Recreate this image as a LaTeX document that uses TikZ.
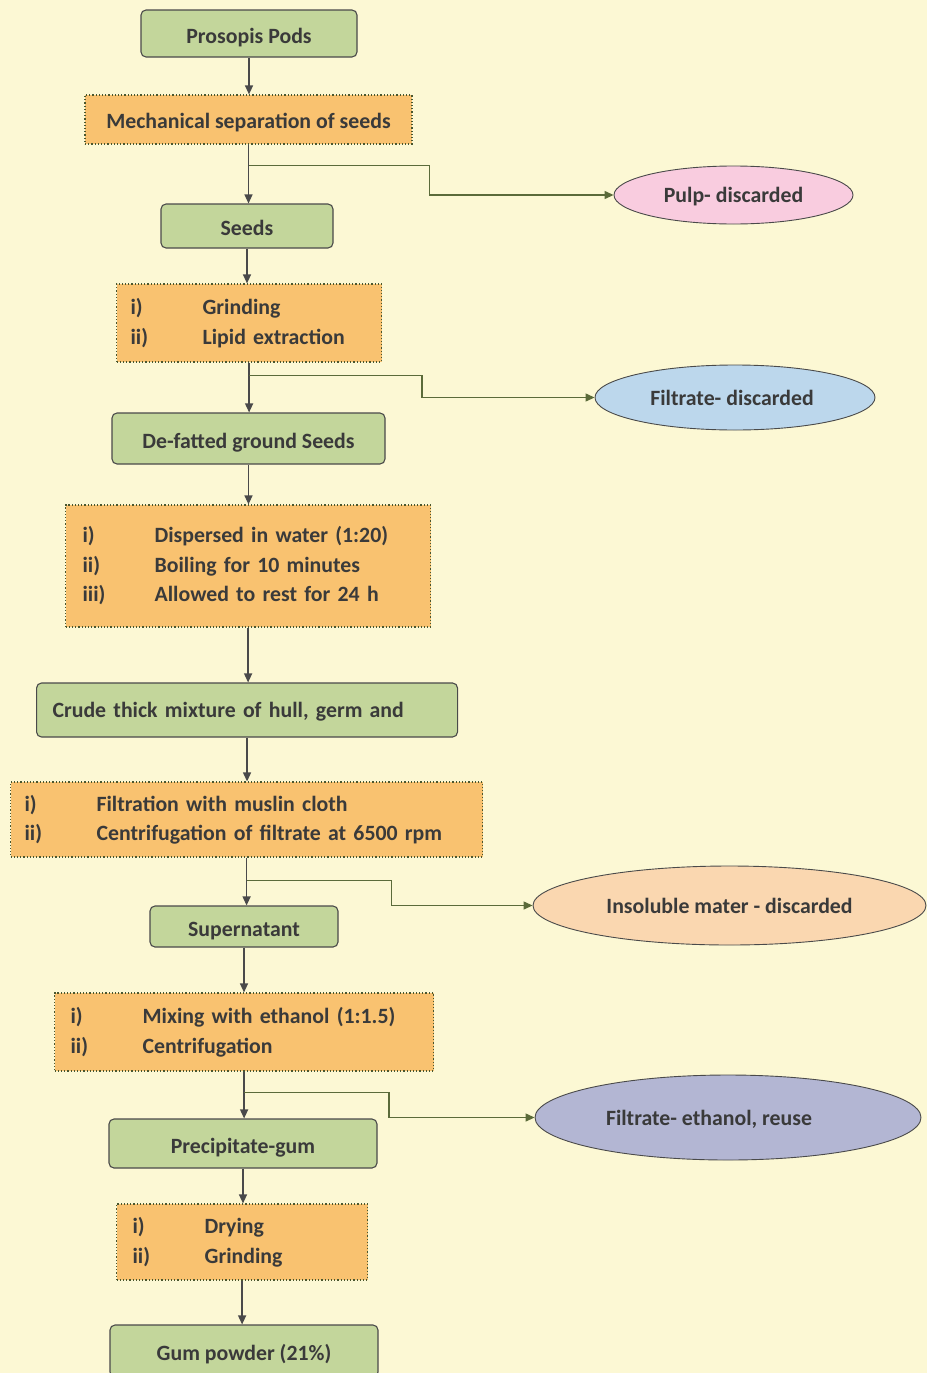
\documentclass[tikz,border=0pt]{standalone}
\usepackage{fontspec}
\setmainfont{Carlito}
\usetikzlibrary{arrows.meta,shapes.geometric,calc}
\definecolor{bgc}{HTML}{FCF8D4}
\definecolor{grn}{HTML}{C3D69B}
\definecolor{org}{HTML}{F9C270}
\definecolor{txt}{HTML}{3A3A3A}
\definecolor{ln}{HTML}{4A4A4A}
\definecolor{brn}{HTML}{5B6B3A}
\definecolor{pnk}{HTML}{F9CCDF}
\definecolor{blu}{HTML}{BCD7EC}
\definecolor{pch}{HTML}{FAD7B0}
\definecolor{lav}{HTML}{B3B6D3}
\newcommand\li[2]{\makebox[72pt][l]{#1}#2}
\begin{document}
\begin{tikzpicture}[x=1pt,y=-1pt,
  every node/.style={font=\fontsize{21.8}{29.5}\selectfont\bfseries, text=txt},
  gbox/.style={draw=ln, line width=1.1pt, fill=grn, rounded corners=5pt, inner sep=0pt, text height=22pt, text depth=3pt},
  obox/.style={draw=brn!80!black, line width=1.2pt, dotted, fill=org, inner sep=0pt},
  ell/.style={ellipse, draw=ln, line width=0.9pt, inner sep=0pt, text height=19pt, text depth=4pt},
  arr/.style={draw=ln, line width=1.3pt, -{Triangle[length=9pt,width=8pt]}},
  br/.style={draw=brn, line width=1.3pt, -{Triangle[length=9pt,width=8pt]}}]
\useasboundingbox (0,0) rectangle (927,1373);
\fill[bgc] (0,0) rectangle (927,1373);

\node[gbox, minimum width=216, minimum height=47] (pods) at (249,33.5) {Prosopis Pods};
\node[obox, minimum width=327, minimum height=49, text height=20pt, text depth=3pt] (mech) at (248.5,119.5) {Mechanical separation of seeds};
\node[gbox, minimum width=172, minimum height=44] (seeds) at (247,226) {Seeds};
\node[obox, minimum height=78, text width=237, inner xsep=14, align=left, anchor=west] (grind) at (116,323) {\li{i)}{Grinding}\\\li{ii)}{Lipid extraction}};
\node[gbox, minimum width=273, minimum height=51] (defat) at (248.5,438.5) {De-fatted ground Seeds};
\node[obox, minimum height=122, text width=331, inner xsep=17, align=left, anchor=west] (disp) at (65,566) {\li{i)}{Dispersed in water (1:20)}\\\li{ii)}{Boiling for 10 minutes}\\\li{iii)}{Allowed to rest for 24 h}};
\node[gbox, minimum height=54, text width=389, inner xsep=16, align=left, anchor=west, text height=19pt, text depth=4pt] (crude) at (36,710) {Crude thick mixture of hull, germ and};
\node[obox, minimum height=75, text width=444, inner xsep=14, align=left, anchor=west] (filt) at (10,819.5) {\li{i)}{Filtration with muslin cloth}\\\li{ii)}{Centrifugation of filtrate at 6500 rpm}};
\node[gbox, minimum width=188, minimum height=41] (super) at (244,926.5) {Supernatant};
\node[obox, minimum height=78, text width=347, inner xsep=16, align=left, anchor=west] (mix) at (54,1032) {\li{i)}{Mixing with ethanol (1:1.5)}\\\li{ii)}{Centrifugation}};
\node[gbox, minimum width=268, minimum height=49] (prec) at (243,1143.5) {Precipitate-gum};
\node[obox, minimum height=76, text width=219, inner xsep=16, align=left, anchor=west] (dry) at (116,1242) {\li{i)}{Drying}\\\li{ii)}{Grinding}};
\node[gbox, minimum width=268, minimum height=52] (gum) at (244,1351) {Gum powder (21\%)};

\node[ell, fill=pnk, minimum width=239, minimum height=58] (pulp) at (733.5,195) {Pulp- discarded};
\node[ell, fill=blu, minimum width=280, minimum height=65] (filtr) at (735,397.5) {\hspace*{-6pt}Filtrate- discarded};
\node[ell, fill=pch, minimum width=393, minimum height=79] (insol) at (729.5,905.5) {Insoluble mater - discarded};
\node[ell, fill=lav, minimum width=386, minimum height=85] (eth) at (728,1117.5) {\hspace*{-38pt}Filtrate- ethanol, reuse};

\draw[arr] (pods.south) -- (pods.south |- mech.north);
\draw[arr] (mech.south) -- (mech.south |- seeds.north);
\draw[arr] (seeds.south) -- (seeds.south |- grind.north);
\draw[arr] (grind.south) -- (grind.south |- defat.north);
\draw[arr] (defat.south) -- (defat.south |- disp.north);
\draw[arr] (disp.south) -- (disp.south |- crude.north);
\draw[arr] (crude.south) -- (crude.south |- filt.north);
\draw[arr] (filt.south) -- (filt.south |- super.north);
\draw[arr] (super.south) -- (super.south |- mix.north);
\draw[arr] (mix.south) -- (mix.south |- prec.north);
\draw[arr] (prec.south) -- (prec.south |- dry.north);
\draw[arr] (dry.south) -- (dry.south |- gum.north);

\coordinate (j1) at ($(mech.south)+(0,21)$);
\coordinate (j2) at ($(grind.south)+(0,13)$);
\coordinate (j3) at ($(filt.south)+(0,23)$);
\coordinate (j4) at ($(mix.south)+(0,21)$);
\draw[br] (j1) -- ++(181,0) |- (pulp.west);
\draw[br] (j2) -- ++(173,0) |- (filtr.west);
\draw[br] (j3) -- ++(145,0) |- (insol.west);
\draw[br] (j4) -- ++(145,0) |- (eth.west);
\end{tikzpicture}
\end{document}
